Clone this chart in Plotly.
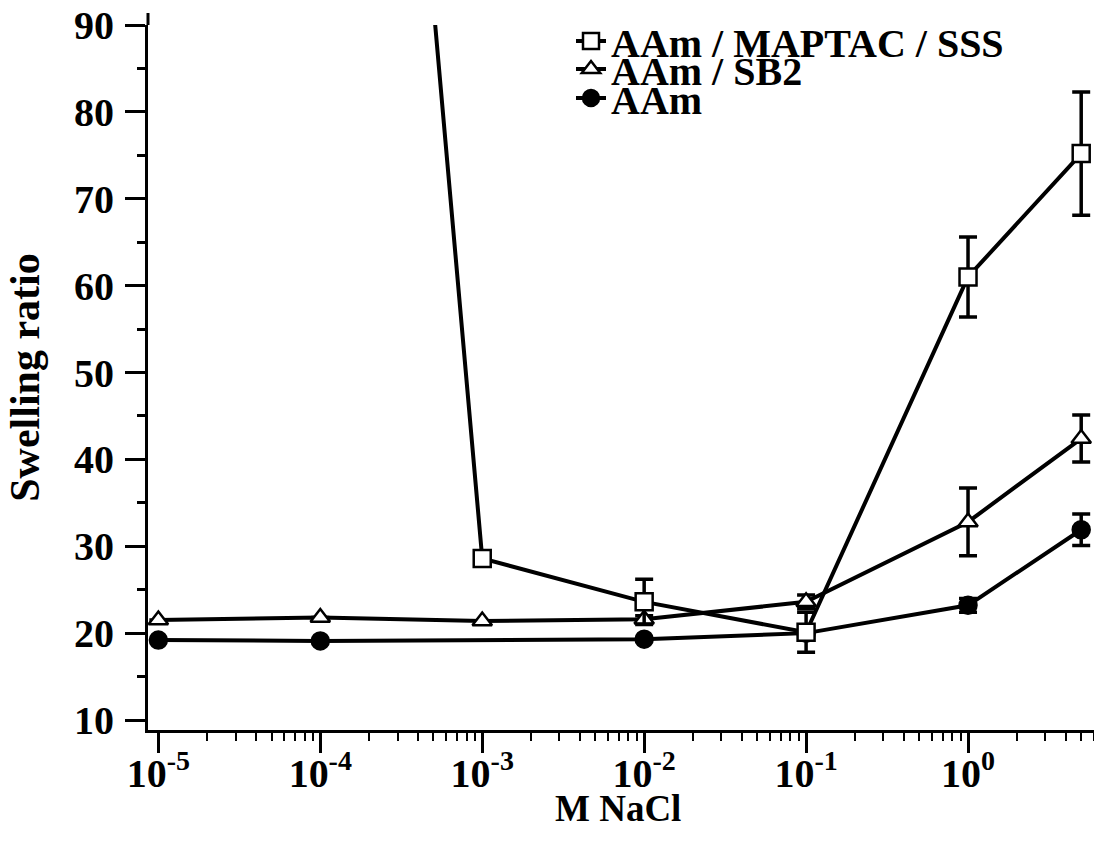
import plotly.graph_objects as go

# ---- data ----
names = ["AAm / MAPTAC / SSS", "AAm / SB2", "AAm"]

x_maptac = [1e-4, 1e-3, 1e-2, 1e-1, 1.0, 5.0]
y_maptac = [240.0, 28.6, 23.6, 20.1, 61.0, 75.2]
e_maptac = [0.0, 0.0, 2.6, 2.3, 4.6, 7.1]

x_sb2 = [1e-5, 1e-4, 1e-3, 1e-2, 1e-1, 1.0, 5.0]
y_sb2 = [21.5, 21.8, 21.4, 21.6, 23.6, 32.8, 42.4]
e_sb2 = [0.0, 0.0, 0.0, 0.4, 0.8, 3.9, 2.7]

x_aam = [1e-5, 1e-4, 1e-2, 1e-1, 1.0, 5.0]
y_aam = [19.2, 19.1, 19.3, 20.0, 23.2, 31.9]
e_aam = [0.0, 0.0, 0.0, 0.0, 0.8, 1.8]

x_tickvals = [1e-5, 1e-4, 1e-3, 1e-2, 1e-1, 1.0]
x_ticktext = ["10<sup>-5</sup>", "10<sup>-4</sup>", "10<sup>-3</sup>",
              "10<sup>-2</sup>", "10<sup>-1</sup>", "10<sup>0</sup>"]
y_tickvals = [10, 20, 30, 40, 50, 60, 70, 80, 90]
x_title = "M NaCl"
y_title = "Swelling ratio"

FONT = "Liberation Serif"
W, H = 1094, 852
# plot frame in page pixels: left 148, top 25, bottom 730, right 1094
ML, MT, MR = 148, 25, 0
MB = H - 730
FS = 40

fig = go.Figure()

def add(xs, ys, es, name, symbol, fill, legend):
    fig.add_trace(go.Scatter(
        x=xs, y=ys, name=name, mode="lines+markers",
        line=dict(color="black", width=4),
        marker=dict(symbol=symbol, size=17, color=fill,
                    line=dict(color="black", width=2.5)),
        error_y=dict(type="data", array=es, visible=True,
                     color="black", thickness=3.5, width=9),
        cliponaxis=False,
        legend=legend,
    ))

# draw order: AAm underneath, MAPTAC/SSS on top (as in the reference)
add(x_aam, y_aam, e_aam, names[2], "circle", "black", "legend3")
add(x_sb2, y_sb2, e_sb2, names[1], "triangle-up", "white", "legend2")
add(x_maptac, y_maptac, e_maptac, names[0], "square", "white", "legend")

minor_x = [k * 10 ** e for e in range(-5, 1) for k in range(2, 10)]

fig.update_xaxes(
    type="log", range=[-5.064, 0.778], automargin=False,
    tickmode="array", tickvals=x_tickvals, ticktext=x_ticktext,
    ticks="outside", ticklen=20, tickwidth=3, tickcolor="black",
    showline=True, linecolor="black", linewidth=3,
    showgrid=False, zeroline=False,
    ticklabelstandoff=-14, ticklabeloverflow="allow",
    tickfont=dict(family=FONT, size=FS, color="black", weight="bold"),
    minor=dict(tickmode="array", tickvals=minor_x, ticks="outside",
               ticklen=8, tickwidth=2, tickcolor="black", showgrid=False),
)
fig.update_yaxes(
    range=[8.85, 90], automargin=False,
    tickmode="array", tickvals=y_tickvals,
    ticks="outside", ticklen=20, tickwidth=3, tickcolor="black",
    showline=True, linecolor="black", linewidth=3,
    showgrid=False, zeroline=False,
    ticklabelstandoff=3, ticklabeloverflow="allow",
    tickfont=dict(family=FONT, size=FS, color="black", weight="bold"),
    minor=dict(dtick=5, ticks="outside", ticklen=8, tickwidth=3,
               tickcolor="black", showgrid=False),
    title=dict(text=y_title, standoff=22,
               font=dict(family=FONT, size=42, color="black", weight="bold")),
)

ph = H - MT - MB
pw = W - ML - MR

def px_x(vx):   # page x -> paper
    return (vx - ML) / pw

def px_y(vy):   # page y -> paper
    return (H - MB - vy) / ph

leg_font = dict(family=FONT, size=FS, color="black", weight="bold")
def leg(vy):
    return dict(x=px_x(571), y=px_y(vy),
                xanchor="left", yanchor="middle", bgcolor="rgba(0,0,0,0)",
                font=leg_font, borderwidth=0)

fig.update_layout(
    width=W, height=H,
    margin=dict(l=ML, r=MR, t=MT, b=MB, autoexpand=False),
    paper_bgcolor="white", plot_bgcolor="white",
    font=dict(family=FONT, color="black"),
    showlegend=True,
    legend=leg(41), legend2=leg(69), legend3=leg(98),
)

# x-axis title placed just under the tick labels, as in the reference
fig.add_annotation(text=x_title, xref="paper", yref="paper",
                   x=px_x(618), y=px_y(808),
                   xanchor="center", yanchor="middle", showarrow=False,
                   font=dict(family=FONT, size=37, color="black", weight="bold"))

# y-axis line extends slightly above the top of the data frame
fig.add_shape(type="line", xref="paper", yref="paper",
              x0=0, x1=0, y0=1, y1=1 + 12 / ph,
              line=dict(color="black", width=3))

# remove the default page margin so the figure fills the window exactly
fig.write_html(
    "out.html",
    config={"displayModeBar": False},
    post_script="document.body.style.margin='0';"
                "document.body.style.overflow='hidden';",
)
